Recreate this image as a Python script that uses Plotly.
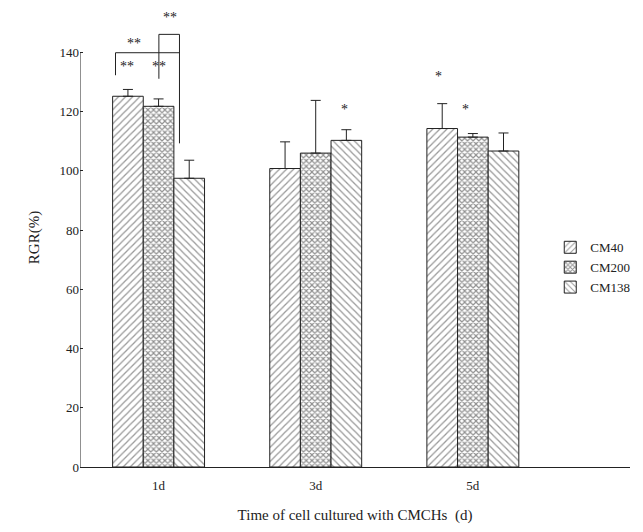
import plotly.graph_objects as go

categories = ["1d", "3d", "5d"]
series_names = ["CM40", "CM200", "CM138"]
cm40 = [125.2, 100.8, 114.3]
cm40_err = [2.3, 9.0, 8.4]
cm200 = [121.8, 106.0, 111.4]
cm200_err = [2.5, 17.8, 1.2]
cm138 = [97.5, 110.3, 106.7]
cm138_err = [6.1, 3.6, 6.1]

y_ticks = [0, 20, 40, 60, 80, 100, 120, 140]
y_axis_top = 140

# significance marks: (x offset in category units, y value, text)
sig_labels = [
    (0.07, 151.9, "**"),
    (-0.156, 142.9, "**"),
    (-0.204, 135.1, "**"),
    (0.002, 135.1, "**"),
    (1.18, 120.8, "*"),
    (1.78, 132.0, "*"),
    (1.95, 120.8, "*"),
]
# bracket segments (x0, y0, x1, y1)
bracket_lines = [
    (-0.274, 132.3, -0.274, 139.9),
    (-0.274, 139.9, 0.133, 139.9),
    (0.002, 131.1, 0.002, 146.1),
    (0.002, 146.1, 0.133, 146.1),
    (0.133, 146.1, 0.133, 109.3),
]

FONT = "Liberation Serif"
x_pos = list(range(len(categories)))
x_range = [-0.5, 3.0]

styles = [
    dict(shape="/", size=5, solidity=0.25, fgcolor="#333333"),
    dict(shape="x", size=4, solidity=0.5, fgcolor="#222222"),
    dict(shape="\\", size=5, solidity=0.25, fgcolor="#333333"),
]

fig = go.Figure()
for name, vals, errs, st in zip(series_names, [cm40, cm200, cm138],
                                [cm40_err, cm200_err, cm138_err], styles):
    fig.add_trace(go.Bar(
        x=x_pos, y=vals, name=name,
        marker=dict(color="white", line=dict(color="#222222", width=1),
                    pattern=dict(bgcolor="white", **st)),
        error_y=dict(type="data", symmetric=False, array=errs,
                     arrayminus=[0] * len(errs), color="#222222",
                     thickness=1, width=5),
    ))

for (x, y, t) in sig_labels:
    fig.add_annotation(x=x, y=y, text=t, showarrow=False, xref="x", yref="y",
                       font=dict(family=FONT, size=14, color="#222222"))

for (x0, y0, x1, y1) in bracket_lines:
    fig.add_shape(type="line", x0=x0, y0=y0, x1=x1, y1=y1, xref="x", yref="y",
                  line=dict(color="#222222", width=1))

# y axis line drawn only up to the top tick
fig.add_shape(type="line", x0=x_range[0], x1=x_range[0], y0=0, y1=y_axis_top,
              xref="x", yref="y", line=dict(color="#222222", width=1))

fig.update_layout(
    width=643, height=532,
    margin=dict(l=80, r=10, t=8, b=65),
    plot_bgcolor="white", paper_bgcolor="white",
    barmode="group", bargap=0.415, bargroupgap=0.0,
    font=dict(family=FONT, size=13, color="#222222"),
    showlegend=True,
    legend=dict(x=0.855, y=0.435, xanchor="left", yanchor="middle",
                font=dict(family=FONT, size=13), tracegroupgap=0,
                bgcolor="rgba(0,0,0,0)"),
    xaxis=dict(range=x_range, tickmode="array", tickvals=x_pos,
               ticktext=categories, showline=True, linecolor="#222222",
               linewidth=1, ticks="", showgrid=False, zeroline=False,
               ticklabelstandoff=6,
               title=dict(text="Time of cell cultured with CMCHs  (d)",
                          font=dict(family=FONT, size=15), standoff=17)),
    yaxis=dict(range=[0, 155], tickmode="array", tickvals=y_ticks,
               showline=False, ticks="inside", ticklen=3, tickcolor="#222222",
               showgrid=False, zeroline=False,
               title=dict(text="RGR(%)", font=dict(family=FONT, size=15),
                          standoff=16)),
)

fig.write_html("out.html")
